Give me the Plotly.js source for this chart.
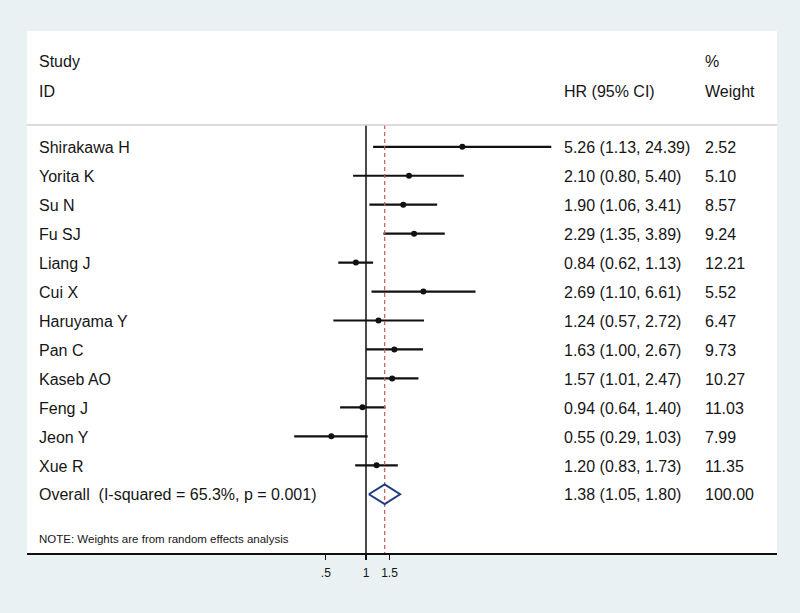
<!DOCTYPE html>
<html>
<head>
<meta charset="utf-8">
<script src="https://cdn.plot.ly/plotly-3.0.1.min.js"></script>
<style>
  html, body { margin: 0; padding: 0; background: #e9f1f3; }
  #plot { width: 800px; height: 613px; }
</style>
</head>
<body>
<div id="plot"></div>
<script>
// Study rows, top to bottom
const studies = ["Shirakawa H", "Yorita K", "Su N", "Fu SJ", "Liang J", "Cui X",
  "Haruyama Y", "Pan C", "Kaseb AO", "Feng J", "Jeon Y", "Xue R"];
const hr = [5.26, 2.10, 1.90, 2.29, 0.84, 2.69, 1.24, 1.63, 1.57, 0.94, 0.55, 1.20];
const ciLow = [1.13, 0.80, 1.06, 1.35, 0.62, 1.10, 0.57, 1.00, 1.01, 0.64, 0.29, 0.83];
const ciHigh = [24.39, 5.40, 3.41, 3.89, 1.13, 6.61, 2.72, 2.67, 2.47, 1.40, 1.03, 1.73];
const weights = [2.52, 5.10, 8.57, 9.24, 12.21, 5.52, 6.47, 9.73, 10.27, 11.03, 7.99, 11.35];

// Pooled estimate
const overallLabel = "Overall  (I-squared = 65.3%, p = 0.001)";
const overallHr = 1.38;
const overallLow = 1.05;
const overallHigh = 1.80;
const overallWeight = 100.00;

// Axis ticks
const tickVals = [0.5, 1, 1.5];
const tickText = [".5", "1", "1.5"];

const font = "Liberation Sans, Arial, Helvetica, sans-serif";
const textColor = "#161616";
const rowOverall = studies.length;
const yTop = -4.0;
const yBottom = 14.03;
const yHeaderLine = -0.75;

function fmt(v) { return v.toFixed(2); }

// Confidence interval segments
let ciX = [];
let ciY = [];
studies.forEach((s, i) => {
  ciX.push(ciLow[i], ciHigh[i], null);
  ciY.push(i, i, null);
});

const ciTrace = {
  x: ciX, y: ciY, mode: "lines", type: "scatter",
  line: { color: "#111", width: 2.2 }, hoverinfo: "skip", showlegend: false
};

const pointTrace = {
  x: hr, y: studies.map((s, i) => i), mode: "markers", type: "scatter",
  marker: { color: "#111", size: 6, symbol: "circle" }, showlegend: false
};

// Line of no effect
const nullLine = {
  x: [1, 1], y: [yHeaderLine, yBottom], mode: "lines", type: "scatter",
  line: { color: "#111", width: 1.5 }, hoverinfo: "skip", showlegend: false
};

// Dashed line at the pooled estimate
const overallLine = {
  x: [overallHr, overallHr], y: [yHeaderLine, yBottom], mode: "lines", type: "scatter",
  line: { color: "#c85a5a", width: 1.2, dash: "4px,3px" }, hoverinfo: "skip", showlegend: false
};

// Diamond for the pooled estimate
const dh = 0.34;
const diamond = {
  x: [overallLow, overallHr, overallHigh, overallHr, overallLow],
  y: [rowOverall, rowOverall - dh, rowOverall, rowOverall + dh, rowOverall],
  mode: "lines", type: "scatter",
  line: { color: "#1f3a80", width: 2 }, hoverinfo: "skip", showlegend: false
};

// Text columns
const xName = 37 / 800;
const xHr = 562 / 800;
const xWeight = 703 / 800;

function label(text, x, y, size) {
  return {
    text: text, x: x, y: y, xref: "paper", yref: "y",
    xanchor: "left", yanchor: "middle", showarrow: false,
    font: { family: font, size: size || 16, color: textColor }
  };
}

let annotations = [
  label("Study", xName, -2.93),
  label("ID", xName, -1.92),
  label("HR (95% CI)", xHr, -1.92),
  label("%", xWeight, -2.93),
  label("Weight", xWeight, -1.92)
];

studies.forEach((s, i) => {
  annotations.push(label(s, xName, i + 0.04));
  annotations.push(label(`${fmt(hr[i])} (${fmt(ciLow[i])}, ${fmt(ciHigh[i])})`, xHr, i + 0.04));
  annotations.push(label(fmt(weights[i]), xWeight, i + 0.04));
});

annotations.push(label(overallLabel, xName, rowOverall));
annotations.push(label(`${fmt(overallHr)} (${fmt(overallLow)}, ${fmt(overallHigh)})`, xHr, rowOverall));
annotations.push(label(fmt(overallWeight), xWeight, rowOverall));
annotations.push(label("NOTE: Weights are from random effects analysis", xName, 13.55, 11.5));

// Log axis scaled so that 1 sits at x=366 px (58 px per natural-log unit)
const pxPerDecade = 58 * Math.LN10;
const xLeft = 27, xRight = 777, xOne = 366;

const layout = {
  width: 800,
  height: 613,
  margin: { l: 0, r: 0, t: 0, b: 0 },
  paper_bgcolor: "#e9f1f3",
  plot_bgcolor: "#ffffff",
  showlegend: false,
  xaxis: {
    type: "log",
    domain: [xLeft / 800, xRight / 800],
    range: [(xLeft - xOne) / pxPerDecade, (xRight - xOne) / pxPerDecade],
    tickvals: tickVals,
    ticktext: tickText,
    ticks: "outside",
    ticklen: 5,
    tickwidth: 1.2,
    tickcolor: "#111",
    ticklabelstandoff: 3,
    showline: true,
    linecolor: "#111",
    linewidth: 2,
    showgrid: false,
    zeroline: false,
    tickfont: { family: font, size: 12, color: textColor },
    fixedrange: true
  },
  yaxis: {
    domain: [1 - 553 / 613, 1 - 31 / 613],
    range: [yBottom, yTop],
    showticklabels: false,
    showgrid: false,
    zeroline: false,
    showline: false,
    ticks: "",
    fixedrange: true
  },
  shapes: [{
    type: "line", xref: "paper", yref: "y",
    x0: xLeft / 800, x1: xRight / 800, y0: yHeaderLine, y1: yHeaderLine,
    line: { color: "#cfcfcf", width: 1.5 }
  }],
  annotations: annotations
};

Plotly.newPlot("plot", [ciTrace, nullLine, overallLine, diamond, pointTrace], layout,
  { displayModeBar: false, staticPlot: true });
</script>
</body>
</html>
